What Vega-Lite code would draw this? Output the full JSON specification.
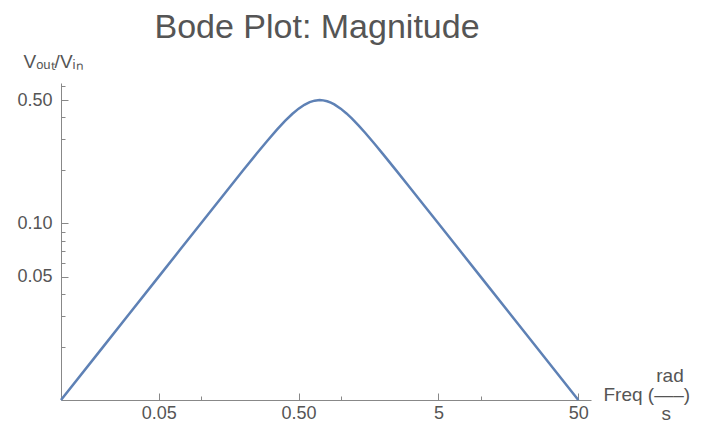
{
  "$schema": "https://vega.github.io/schema/vega-lite/v6.json",
  "autosize": "none",
  "padding": {"left": 61, "top": 83, "right": 110, "bottom": 22},
  "width": 530,
  "height": 317,
  "title": {
    "text": "Bode Plot: Magnitude",
    "font": "Liberation Sans",
    "fontSize": 34,
    "fontWeight": "normal",
    "color": "#555555",
    "anchor": "middle",
    "baseline": "alphabetic",
    "dx": -9,
    "dy": 38,
    "offset": 18
  },
  "data": {
    "values": [
      {"w": 0.01, "mag": 0.01},
      {"w": 0.02, "mag": 0.02},
      {"w": 0.03, "mag": 0.03},
      {"w": 0.05, "mag": 0.049999},
      {"w": 0.07, "mag": 0.069999},
      {"w": 0.1, "mag": 0.09998},
      {"w": 0.15, "mag": 0.14985},
      {"w": 0.2, "mag": 0.19936},
      {"w": 0.25, "mag": 0.24807},
      {"w": 0.3, "mag": 0.29525},
      {"w": 0.35, "mag": 0.33994},
      {"w": 0.4, "mag": 0.38097},
      {"w": 0.45, "mag": 0.41709},
      {"w": 0.5, "mag": 0.44721},
      {"w": 0.55, "mag": 0.47058},
      {"w": 0.6, "mag": 0.48692},
      {"w": 0.65, "mag": 0.49648},
      {"w": 0.7071, "mag": 0.5},
      {"w": 0.75, "mag": 0.49827},
      {"w": 0.8, "mag": 0.49252},
      {"w": 0.85, "mag": 0.4837},
      {"w": 0.9, "mag": 0.47274},
      {"w": 1.0, "mag": 0.44721},
      {"w": 1.1, "mag": 0.42009},
      {"w": 1.2, "mag": 0.39361},
      {"w": 1.35, "mag": 0.35717},
      {"w": 1.5, "mag": 0.3254},
      {"w": 1.75, "mag": 0.28198},
      {"w": 2, "mag": 0.24807},
      {"w": 2.5, "mag": 0.19936},
      {"w": 3, "mag": 0.16641},
      {"w": 4, "mag": 0.12494},
      {"w": 5, "mag": 0.09998},
      {"w": 7, "mag": 0.071425},
      {"w": 10, "mag": 0.049999},
      {"w": 20, "mag": 0.025},
      {"w": 50, "mag": 0.01}
    ]
  },
  "mark": {"type": "line", "color": "#5E81B5", "strokeWidth": 2.5, "clip": false},
  "encoding": {
    "x": {
      "field": "w",
      "type": "quantitative",
      "scale": {"type": "log", "domain": [0.01, 61.6], "nice": false},
      "axis": {
        "values": [0.05, 0.1, 0.5, 1, 5, 10, 50],
        "labelExpr": "datum.value == 0.05 ? '0.05' : datum.value == 0.5 ? '0.50' : datum.value == 5 ? '5' : datum.value == 50 ? '50' : ''",
        "tickSize": {"condition": {"test": "datum.value == 0.05 || datum.value == 0.5 || datum.value == 5 || datum.value == 50", "value": -7}, "value": -4},
        "labelPadding": 11,
        "labelFontSize": 18,
        "labelBaseline": "top",
        "title": ["\u200b\u00a0\u00a0\u00a0\u00a0\u00a0\u00a0\u00a0\u00a0\u00a0\u00a0rad", "Freq (\u2014\u2013)", "\u200b\u00a0\u00a0\u00a0\u00a0\u00a0\u00a0\u00a0\u00a0\u00a0\u00a0\u00a0s"],
        "titleX": 542,
        "titleY": -25,
        "titleAlign": "left",
        "titleBaseline": "middle",
        "titleAnchor": null,
        "titleLineHeight": 19,
        "titleFontSize": 19
      }
    },
    "y": {
      "field": "mag",
      "type": "quantitative",
      "scale": {"type": "log", "domain": [0.01, 0.625], "nice": false},
      "axis": {
        "values": [0.02, 0.03, 0.04, 0.05, 0.06, 0.07, 0.08, 0.09, 0.1, 0.2, 0.3, 0.4, 0.5, 0.6],
        "labelExpr": "datum.value == 0.05 ? '0.05' : datum.value == 0.1 ? '0.10' : datum.value == 0.5 ? '0.50' : ''",
        "tickSize": {"condition": {"test": "datum.value == 0.05 || datum.value == 0.1 || datum.value == 0.5", "value": -7}, "value": -4},
        "labelPadding": 16,
        "labelFontSize": 18,
        "title": "V\u2092\u1d64\u209c/V\u1d62\u2099",
        "titleAngle": 0,
        "titleX": -38,
        "titleY": -22,
        "titleAlign": "left",
        "titleBaseline": "middle",
        "titleAnchor": null,
        "titleFontSize": 19
      }
    }
  },
  "config": {
    "view": {"stroke": null},
    "axis": {
      "grid": false,
      "domainColor": "#888888",
      "tickColor": "#888888",
      "labelColor": "#555555",
      "titleColor": "#555555",
      "labelFont": "Liberation Sans",
      "titleFont": "Liberation Sans",
      "titleFontWeight": "normal",
      "labelFlush": false,
      "labelOverlap": false
    }
  }
}
